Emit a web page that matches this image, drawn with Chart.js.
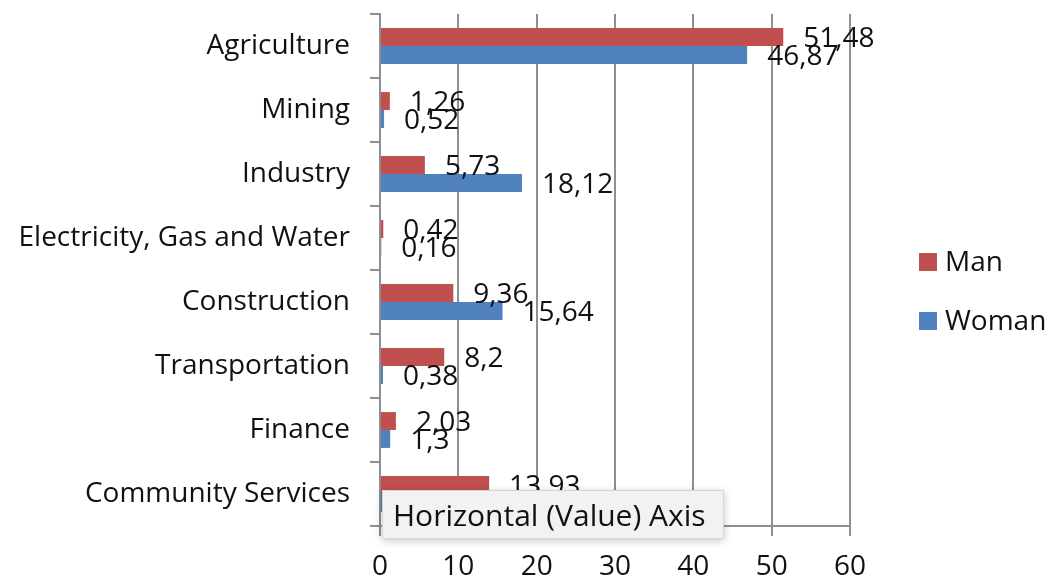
<!DOCTYPE html>
<html>
<head>
<meta charset="utf-8">
<script src="https://cdn.jsdelivr.net/npm/chart.js@4/dist/chart.umd.min.js"></script>
<style>
  html, body { margin: 0; padding: 0; background: #fff; }
  #wrap { position: relative; width: 1051px; height: 581px; }
  #axisTip {
    position: absolute; left: 382px; top: 490px; width: 330px; height: 47px;
    padding-left: 10px; line-height: 47px;
    background: #f2f2f2; border: 1px solid #d6d6d6;
    box-shadow: 0 2px 8px rgba(0,0,0,0.22);
    font-family: "Open Sans", sans-serif; font-size: 30px; color: #111;
    white-space: nowrap;
  }
</style>
</head>
<body>
<div id="wrap">
  <canvas id="chart" width="1051" height="581"></canvas>
  <div id="axisTip">Horizontal (Value) Axis</div>
</div>
<script>
const categories = ['Agriculture', 'Mining', 'Industry', 'Electricity, Gas and Water',
    'Construction', 'Transportation', 'Finance', 'Community Services'];
const manValues = [51.48, 1.26, 5.73, 0.42, 9.36, 8.2, 2.03, 13.93];
const womanValues = [46.87, 0.52, 18.12, 0.16, 15.64, 0.38, 1.3, 0.3];
const xTicks = [0, 10, 20, 30, 40, 50, 60];

const FONT = '"Open Sans", sans-serif';
const gridColor = '#8f8f8f';

// value labels to the right of each bar, comma as decimal mark
const valueLabels = {
    id: 'valueLabels',
    afterDatasetsDraw(chart) {
        const ctx = chart.ctx;
        ctx.save();
        ctx.font = '28px ' + FONT;
        ctx.fillStyle = '#111';
        ctx.textAlign = 'left';
        ctx.textBaseline = 'middle';
        chart.data.datasets.forEach((ds, i) => {
            chart.getDatasetMeta(i).data.forEach((bar, j) => {
                const txt = String(ds.data[j]).replace('.', ',');
                ctx.fillText(txt, bar.x + 20, bar.y + 2);
            });
        });
        ctx.restore();
    }
};

// legend on the right, drawn from the datasets
const sideLegend = {
    id: 'sideLegend',
    afterDraw(chart) {
        const ctx = chart.ctx;
        const rows = [262, 321];
        ctx.save();
        ctx.font = '28px ' + FONT;
        ctx.textAlign = 'left';
        ctx.textBaseline = 'middle';
        chart.data.datasets.forEach((ds, i) => {
            const y = rows[i];
            ctx.fillStyle = ds.backgroundColor;
            ctx.fillRect(919, y - 9, 18, 18);
            ctx.fillStyle = '#111';
            ctx.fillText(ds.label, 945, y + 1);
        });
        ctx.restore();
    }
};

new Chart(document.getElementById('chart').getContext('2d'), {
    type: 'bar',
    data: {
        labels: categories,
        datasets: [
            { label: 'Man', data: manValues, backgroundColor: '#c0504d' },
            { label: 'Woman', data: womanValues, backgroundColor: '#4f81bd' }
        ]
    },
    options: {
        indexAxis: 'y',
        responsive: false,
        animation: false,
        categoryPercentage: 0.56,
        barPercentage: 1,
        layout: { padding: { top: 14, right: 201, left: 0, bottom: 0 } },
        plugins: {
            legend: { display: false },
            tooltip: { enabled: false }
        },
        scales: {
            x: {
                min: 0,
                max: 60,
                afterBuildTicks: (scale) => {
                    scale.ticks = xTicks.map(v => ({ value: v }));
                },
                afterFit: (scale) => { scale.height = 55; },
                grid: { color: gridColor, lineWidth: 2, tickLength: 10 },
                border: { color: gridColor, width: 2 },
                ticks: { color: '#111', font: { family: FONT, size: 28 }, padding: 14 }
            },
            y: {
                afterFit: (scale) => {
                    scale.width = 380;
                    scale.paddingTop = 0;
                    scale.paddingBottom = 0;
                },
                grid: { drawOnChartArea: false, color: gridColor, lineWidth: 2, tickLength: 10, offset: true },
                border: { color: gridColor, width: 2 },
                ticks: { color: '#111', font: { family: FONT, size: 28 }, padding: 20 }
            }
        }
    },
    plugins: [valueLabels, sideLegend]
});
</script>
</body>
</html>
